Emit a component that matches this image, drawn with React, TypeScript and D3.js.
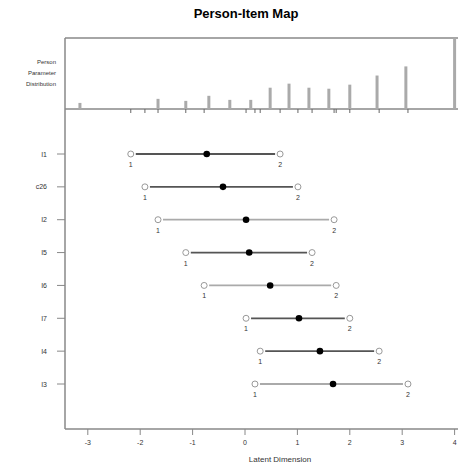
import React from "react";
import * as d3 from "d3";

const items = ["I1", "c26", "I2", "I5", "I6", "I7", "I4", "I3"];
const threshold1 = [-2.18, -1.91, -1.66, -1.13, -0.78, 0.02, 0.29, 0.19];
const location = [-0.73, -0.42, 0.02, 0.08, 0.48, 1.03, 1.43, 1.68];
const threshold2 = [0.67, 1.01, 1.70, 1.28, 1.74, 2.0, 2.56, 3.11];
const lightLine = [false, false, true, false, true, false, false, true];

const personValues = [-3.15, -1.66, -1.13, -0.69, -0.29, 0.11, 0.48, 0.84, 1.22, 1.6, 2.0, 2.52, 3.07, 4.0];
const personCounts = [3, 5, 4, 6.5, 4.5, 4.5, 10.5, 12.5, 10.5, 10, 12, 16.5, 21, 35];

const xTicks = [-3, -2, -1, 0, 1, 2, 3, 4];

const font = "Liberation Sans, Arial, sans-serif";

export default function App() {
  const W = 458;
  const H = 466;
  const left = 65;

  const x = d3.scaleLinear().domain([0, 1]).range([245, 297.4]);
  const xs = (v: number) => x(v);

  const histTop = 38;
  const histBase = 109;
  const hy = d3.scaleLinear().domain([0, d3.max(personCounts)!]).range([histBase, histTop]);

  const y = d3.scalePoint<string>().domain(items).range([154, 384]);
  const axisY = 429;

  const gap = 5;

  return (
    <svg width={W} height={H} style={{ position: "absolute", left: 0, top: 0, background: "#fff" }}>
      <text x={246} y={18} textAnchor="middle" fontFamily={font} fontWeight="bold" fontSize={13}>
        Person-Item Map
      </text>

      {/* person distribution panel */}
      <line x1={left} x2={W} y1={histTop} y2={histTop} stroke="#888" strokeWidth={1.5} />
      <line x1={left} x2={W} y1={histBase} y2={histBase} stroke="#888" strokeWidth={1.5} />
      {["Person", "Parameter", "Distribution"].map((t, i) => (
        <text key={t} x={56} y={64 + i * 11} textAnchor="end" fontFamily={font} fontSize={6} fill="#333">
          {t}
        </text>
      ))}
      {personValues.map((v, i) => (
        <line key={i} x1={xs(v)} x2={xs(v)} y1={histBase} y2={hy(personCounts[i])} stroke="#aaa" strokeWidth={3} />
      ))}
      {threshold1.concat(threshold2).map((v, i) => (
        <line key={"r" + i} x1={xs(v)} x2={xs(v)} y1={histBase} y2={histBase + 4} stroke="#666" strokeWidth={1} />
      ))}

      {/* item panel axes */}
      <line x1={left} x2={left} y1={histTop} y2={axisY} stroke="#888" strokeWidth={1.5} />
      <line x1={left} x2={W} y1={axisY} y2={axisY} stroke="#888" strokeWidth={1.5} />
      {items.map((it) => (
        <g key={it}>
          <line x1={57} x2={left} y1={y(it)} y2={y(it)} stroke="#888" strokeWidth={1} />
          <text x={47} y={y(it)! + 2.5} textAnchor="end" fontFamily={font} fontSize={7} fill="#333">
            {it}
          </text>
        </g>
      ))}
      {xTicks.map((t) => (
        <g key={t}>
          <line x1={xs(t)} x2={xs(t)} y1={axisY} y2={axisY + 6} stroke="#888" strokeWidth={1} />
          <text x={xs(t)} y={axisY + 16} textAnchor="middle" fontFamily={font} fontSize={7} fill="#333">
            {t}
          </text>
        </g>
      ))}
      <text x={280} y={462} textAnchor="middle" fontFamily={font} fontSize={8} fill="#333">
        Latent Dimension
      </text>

      {/* items */}
      {items.map((it, i) => {
        const cy = y(it)!;
        const a = xs(threshold1[i]);
        const b = xs(threshold2[i]);
        return (
          <g key={it}>
            <line x1={a + gap} x2={b - gap} y1={cy} y2={cy} stroke={lightLine[i] ? "#aaa" : "#555"} strokeWidth={1.8} />
            <circle cx={a} cy={cy} r={3} fill="#fff" stroke="#999" strokeWidth={1} />
            <circle cx={b} cy={cy} r={3} fill="#fff" stroke="#999" strokeWidth={1} />
            <circle cx={xs(location[i])} cy={cy} r={3.3} fill="#000" />
            <text x={a} y={cy + 13} textAnchor="middle" fontFamily={font} fontSize={7} fill="#333">1</text>
            <text x={b} y={cy + 13} textAnchor="middle" fontFamily={font} fontSize={7} fill="#333">2</text>
          </g>
        );
      })}
    </svg>
  );
}
